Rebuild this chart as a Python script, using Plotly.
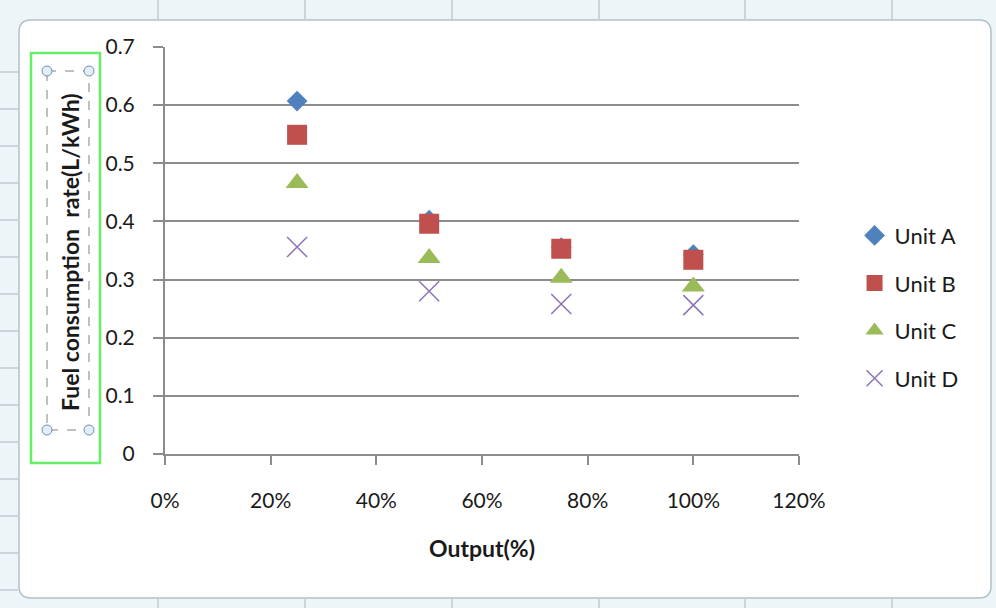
import plotly.graph_objects as go

output_pct = [0.25, 0.50, 0.75, 1.00]
unit_a = [0.607, 0.402, 0.355, 0.343]
unit_b = [0.549, 0.396, 0.353, 0.334]
unit_c = [0.466, 0.337, 0.303, 0.288]
unit_d = [0.356, 0.280, 0.258, 0.256]
series_names = ["Unit A", "Unit B", "Unit C", "Unit D"]
x_ticks = [0, 0.2, 0.4, 0.6, 0.8, 1.0, 1.2]
x_tick_labels = ["0%", "20%", "40%", "60%", "80%", "100%", "120%"]
y_ticks = [0, 0.1, 0.2, 0.3, 0.4, 0.5, 0.6, 0.7]
y_tick_labels = ["0", "0.1", "0.2", "0.3", "0.4", "0.5", "0.6", "0.7"]

FONT = "Lato, 'Open Sans', sans-serif"
TXT = "#1a1a1a"

styles = [
    dict(symbol="diamond", size=16, color="#4F81BD", line=dict(width=0)),
    dict(symbol="square", size=20, color="#C0504D", line=dict(width=0)),
    dict(symbol="triangle-up", size=20, color="#9BBB59", line=dict(width=0)),
    dict(symbol="x-thin", size=20, color="#8C73B8", line=dict(width=1.5, color="#8C73B8")),
]

fig = go.Figure()
for name, ys, st, grp in zip(series_names, [unit_a, unit_b, unit_c, unit_d], styles, "abcd"):
    fig.add_trace(go.Scatter(x=output_pct, y=ys, mode="markers", name=name,
                             legendgroup=grp, marker=st))

W, H = 996, 608
L, R, T, B = 165, 799, 47, 454
fig.update_layout(
    width=W, height=H,
    margin=dict(l=L, r=W - R, t=T, b=H - B, autoexpand=False),
    paper_bgcolor="#EDF5F9",
    plot_bgcolor="rgba(0,0,0,0)",
    font=dict(family=FONT, color=TXT),
    showlegend=True,
    legend=dict(xref="container", yref="container", x=0.858, y=0.647,
                xanchor="left", yanchor="top", tracegroupgap=16,
                font=dict(size=22, family=FONT, color=TXT),
                bgcolor="rgba(0,0,0,0)"),
    xaxis=dict(range=[0, 1.2], tickvals=x_ticks, ticktext=x_tick_labels,
               showgrid=False, zeroline=False, showline=True, linecolor="#8C8C8C", linewidth=2,
               ticks="outside", ticklen=9, tickcolor="#8C8C8C", tickwidth=2,
               ticklabelstandoff=18, tickfont=dict(size=21, family=FONT, color=TXT),
               title=dict(text="<b>Output(%)</b>", font=dict(size=23, family=FONT, color=TXT), standoff=30)),
    yaxis=dict(range=[0, 0.7], tickvals=y_ticks, ticktext=y_tick_labels,
               showgrid=True, gridcolor="#8C8C8C", gridwidth=2,
               zeroline=False, showline=True, linecolor="#8C8C8C", linewidth=2,
               ticks="outside", ticklen=10, tickcolor="#8C8C8C", tickwidth=2,
               ticklabelstandoff=14, tickfont=dict(size=21, family=FONT, color=TXT)),
)

# pixel -> paper (plot-area relative) coordinates
def px(x):
    return (x - L) / (R - L)
def py(y):
    return (B - y) / (B - T)

shapes = []
# white chart frame with rounded corners
x0, x1, y0, y1, r = 19, 991, 20, 598, 12
path = (f"M {px(x0+r)},{py(y0)} L {px(x1-r)},{py(y0)} Q {px(x1)},{py(y0)} {px(x1)},{py(y0+r)} "
        f"L {px(x1)},{py(y1-r)} Q {px(x1)},{py(y1)} {px(x1-r)},{py(y1)} "
        f"L {px(x0+r)},{py(y1)} Q {px(x0)},{py(y1)} {px(x0)},{py(y1-r)} "
        f"L {px(x0)},{py(y0+r)} Q {px(x0)},{py(y0)} {px(x0+r)},{py(y0)} Z")
shapes.append(dict(type="path", xref="paper", yref="paper", path=path,
                   fillcolor="white", line=dict(color="#B4C0C8", width=1.5), layer="below"))
# spreadsheet cell lines around the chart object
for cx in [158, 305, 452, 599, 745, 892]:
    shapes.append(dict(type="line", xref="paper", yref="paper", x0=px(cx), x1=px(cx),
                       y0=py(0), y1=py(19), line=dict(color="#A9B6BE", width=1), layer="below"))
    shapes.append(dict(type="line", xref="paper", yref="paper", x0=px(cx), x1=px(cx),
                       y0=py(599), y1=py(608), line=dict(color="#A9B6BE", width=1), layer="below"))
for ry in range(72, 600, 37):
    shapes.append(dict(type="line", xref="paper", yref="paper", x0=px(0), x1=px(18),
                       y0=py(ry), y1=py(ry), line=dict(color="#A9B6BE", width=1), layer="below"))
# green selection rectangle around axis title
shapes.append(dict(type="rect", xref="paper", yref="paper", x0=px(31), x1=px(100),
                   y0=py(53), y1=py(463), line=dict(color="#66EE66", width=2.5)))
# dashed title box
shapes.append(dict(type="rect", xref="paper", yref="paper", x0=px(47), x1=px(89),
                   y0=py(71), y1=py(430), line=dict(color="#808080", width=1, dash="dash")))
for cx, cy in [(47, 71), (89, 71), (47, 430), (89, 430)]:
    shapes.append(dict(type="circle", xref="paper", yref="paper",
                       x0=px(cx-5), x1=px(cx+5), y0=py(cy-5), y1=py(cy+5),
                       fillcolor="#E4EEF8", line=dict(color="#6F8FB5", width=1)))
fig.update_layout(shapes=shapes)

fig.add_annotation(xref="paper", yref="paper", x=px(70), y=py(252),
                   text="<b>Fuel consumption\u00a0 rate(L/kWh)</b>", textangle=-90,
                   showarrow=False, font=dict(size=23, family=FONT, color=TXT),
                   xanchor="center", yanchor="middle")

fig.write_html("out.html", config={"displayModeBar": False},
               post_script="document.body.style.margin='0';")
